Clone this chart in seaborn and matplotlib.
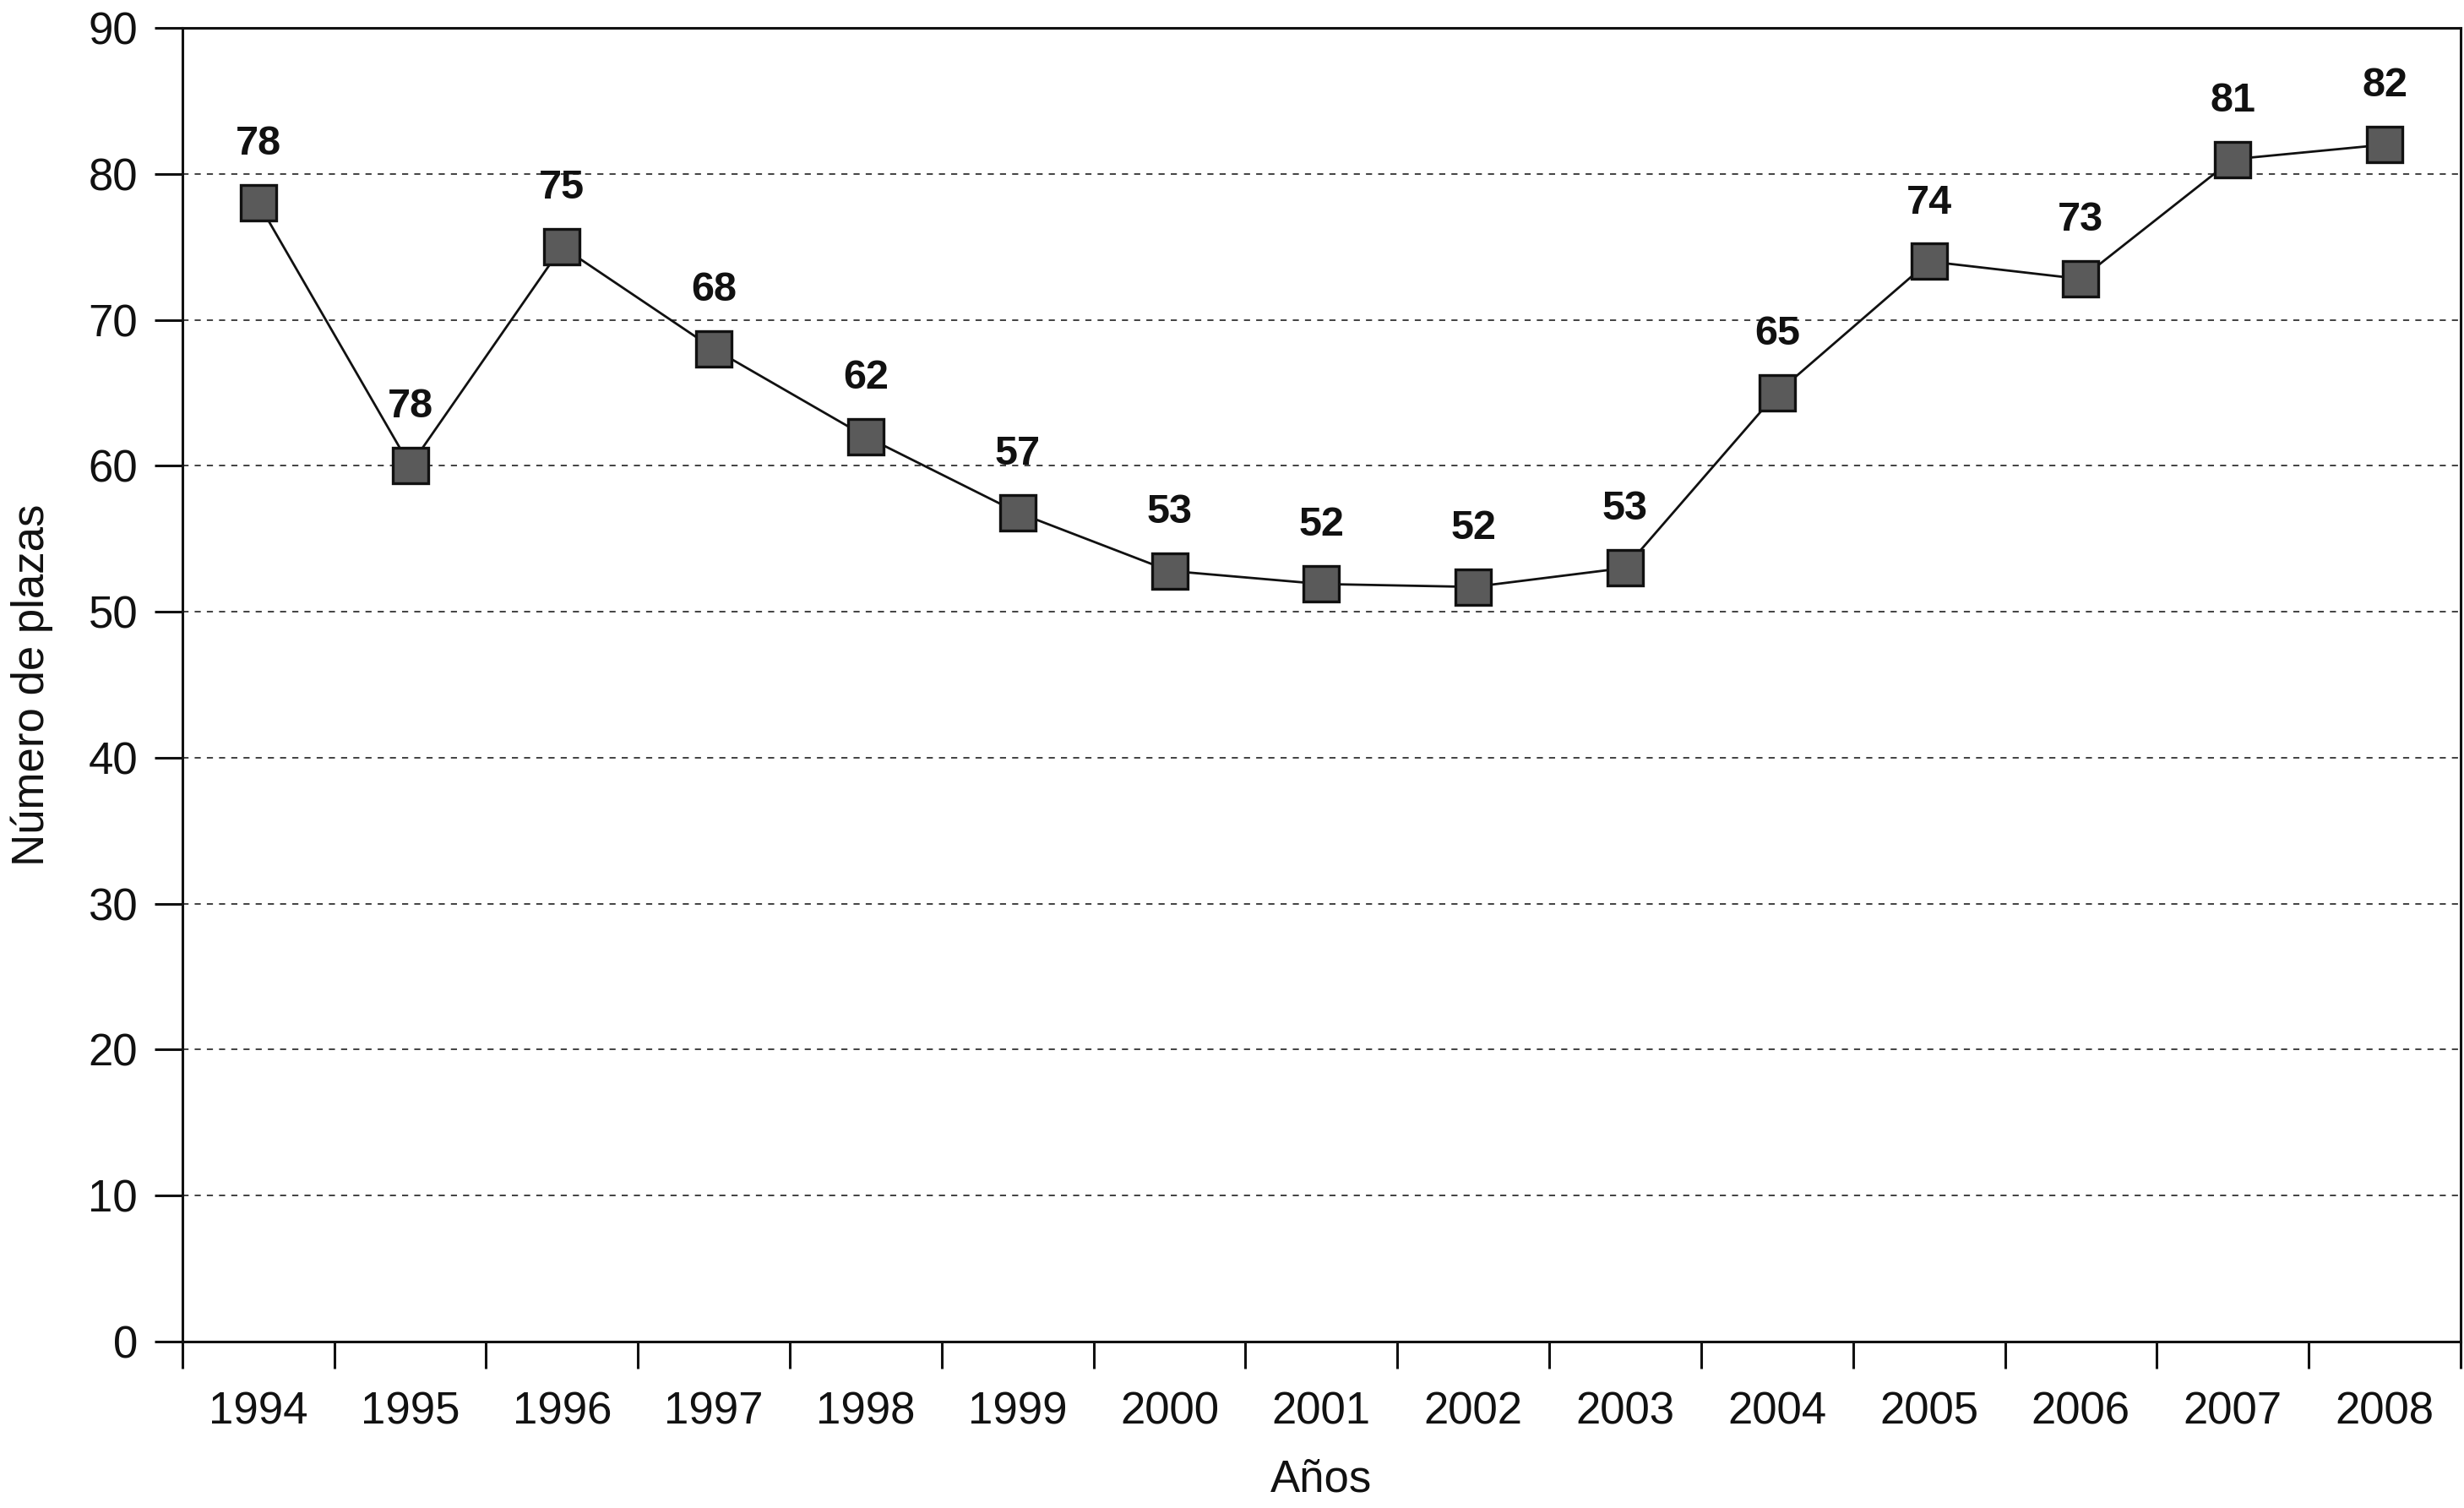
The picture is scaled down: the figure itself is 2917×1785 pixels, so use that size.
import matplotlib
matplotlib.use("Agg")
import matplotlib.pyplot as plt
import matplotlib.ticker as mticker
import seaborn as sns
import numpy as np
import pandas as pd

# datos
years = [1994, 1995, 1996, 1997, 1998, 1999, 2000, 2001, 2002, 2003, 2004, 2005, 2006, 2007, 2008]
plazas = [78, 60, 75, 68, 62, 56.8, 52.8, 51.9, 51.7, 53, 65, 74, 72.8, 81, 82]
etiquetas = ["78", "78", "75", "68", "62", "57", "53", "52", "52", "53", "65", "74", "73", "81", "82"]
y_ticks = [0, 10, 20, 30, 40, 50, 60, 70, 80, 90]

df = pd.DataFrame({"Años": years, "plazas": plazas})

sns.set_theme(style="white")
plt.rcParams["font.family"] = ["Liberation Sans", "DejaVu Sans"]

fig = plt.figure(figsize=(29.17, 17.85), dpi=100)
ax = fig.add_axes([0.074, 0.1104, 0.9246, 0.8711])

sns.lineplot(data=df, x="Años", y="plazas", ax=ax, color="#111111", linewidth=2.0,
             marker="s", markersize=30, markerfacecolor="#5a5a5a",
             markeredgecolor="#111111", markeredgewidth=2.4)

for x, y, t in zip(years, plazas, etiquetas):
    ax.annotate(t, (x, y), xytext=(0, 50), textcoords="offset points",
                ha="center", va="center", fontsize=35, fontweight="bold", color="#111111")

ax.set_xlim(years[0] - 0.5, years[-1] + 0.5)
ax.set_ylim(0, 90)
ax.set_yticks(y_ticks)
ax.set_yticklabels([str(v) for v in y_ticks])

# ticks mayores en los límites de cada año, etiquetas en ticks menores
ax.xaxis.set_major_locator(mticker.FixedLocator(np.arange(years[0] - 0.5, years[-1] + 1, 1)))
ax.xaxis.set_major_formatter(mticker.NullFormatter())
ax.xaxis.set_minor_locator(mticker.FixedLocator(years))
ax.xaxis.set_minor_formatter(mticker.FixedFormatter([str(y) for y in years]))

ax.tick_params(axis="x", which="major", direction="out", length=23, width=2.2, color="#111111", bottom=True)
ax.tick_params(axis="x", which="minor", length=0, pad=42, labelsize=38, labelcolor="#111111", bottom=True)
ax.tick_params(axis="y", which="major", direction="out", length=24, width=2.2, color="#111111",
               pad=14, labelsize=38, labelcolor="#111111", left=True)

for y in y_ticks[1:-1]:
    ax.axhline(y, color="#333333", linewidth=1.3, linestyle=(0, (4, 4)), zorder=0)

for s in ax.spines.values():
    s.set_visible(True)
    s.set_color("#111111")
    s.set_linewidth(2.2)

ax.set_xlabel("Años", fontsize=38, color="#111111", labelpad=22)
ax.set_ylabel("Número de plazas", fontsize=38, color="#111111", labelpad=30)

fig.savefig("out.png", dpi=100)
